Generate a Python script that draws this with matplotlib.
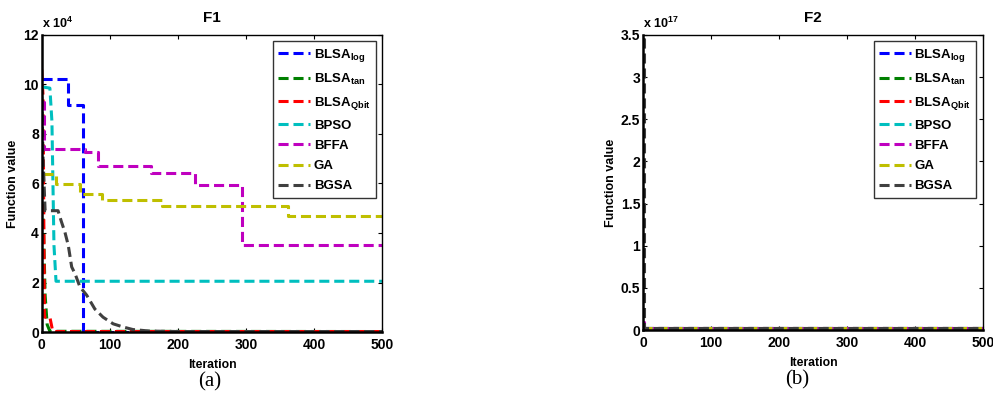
import numpy as np
import matplotlib
matplotlib.use("Agg")
from matplotlib import pyplot as plt

plt.rcParams['font.family'] = ['Liberation Sans', 'DejaVu Sans']
plt.rcParams['font.weight'] = 'bold'
plt.rcParams['mathtext.fontset'] = 'custom'
plt.rcParams['mathtext.bf'] = 'Liberation Sans:bold'
plt.rcParams['mathtext.rm'] = 'Liberation Sans:bold'

names = [r'BLSA$_{\mathbf{log}}$', r'BLSA$_{\mathbf{tan}}$', r'BLSA$_{\mathbf{Qbit}}$',
         'BPSO', 'BFFA', 'GA', 'BGSA']
colors = ['#0000ff', '#008000', '#ff0000', '#00bfbf', '#bf00bf', '#bfbf00', '#404040']

# F1 curves (function value in units of 1e4)
f1_log_x = [0, 39, 61, 500]
f1_log_y = [10.2, 9.18, 0.02, 0.02]
f1_tan_x = [0, 2, 5, 8, 12, 500]
f1_tan_y = [7.6, 5.0, 1.5, 0.3, 0.03, 0.02]
f1_qbit_x = [0, 2, 4, 5, 12, 16, 20, 500]
f1_qbit_y = [10.6, 9.5, 0.6, 0.6, 0.6, 0.05, 0.02, 0.02]
f1_bpso_x = [1, 12, 15, 18, 21, 500]
f1_bpso_y = [9.9, 9.85, 8.5, 3.5, 2.05, 2.05]
f1_bffa_x = [0, 4, 63, 82, 161, 225, 294, 500]
f1_bffa_y = [9.3, 7.4, 7.27, 6.7, 6.42, 5.92, 3.5, 3.5]
f1_ga_x = [2, 21, 56, 88, 177, 362, 500]
f1_ga_y = [6.4, 5.96, 5.58, 5.35, 5.1, 4.69, 4.69]
f1_bgsa_x = [0, 2, 5, 24, 29, 34, 39, 44, 49, 56, 66, 78, 90, 105, 120, 134, 158, 200, 500]
f1_bgsa_y = [9.5, 7.0, 4.9, 4.9, 4.45, 4.04, 3.5, 2.63, 2.35, 1.83, 1.49, 0.93, 0.6, 0.33, 0.2, 0.1, 0.04, 0.02, 0.02]

# F2 curves (function value in units of 1e17)
f2_x = [0, 1, 500]
f2_log_y = [0.02, 0.02, 0.02]
f2_tan_y = [0.02, 0.02, 0.02]
f2_qbit_y = [0.02, 0.02, 0.02]
f2_bpso_y = [0.02, 0.02, 0.02]
f2_bffa_y = [0.1, 0.02, 0.02]
f2_ga_y = [0.03, 0.02, 0.02]
f2_bgsa_y = [3.45, 0.02, 0.02]

DASH = (3.3, 1.6)
LW = 2.2

fig = plt.figure(figsize=(9.93, 4.01), dpi=100)
ax1 = fig.add_axes([0.042, 0.172, 0.343, 0.741])
ax2 = fig.add_axes([0.6475, 0.177, 0.3425, 0.736])

def style(ax, yticks, ymax, expo, title):
    ax.set_xlim(0, 500)
    ax.set_ylim(0, ymax)
    ax.set_xticks([0, 100, 200, 300, 400, 500])
    ax.set_yticks(yticks)
    ax.set_yticklabels([('%g' % t) for t in yticks])
    ax.tick_params(direction='in', length=3, width=0.8, top=True, right=True,
                   labelsize=10, pad=2)
    ax.tick_params(axis='x', pad=4)
    for lab in ax.get_xticklabels() + ax.get_yticklabels():
        lab.set_fontweight('bold')
    for s in ax.spines.values():
        s.set_linewidth(1.0)
    ax.spines['left'].set_linewidth(1.8)
    ax.spines['bottom'].set_linewidth(1.8)
    ax.set_title(title, fontsize=11, fontweight='bold', pad=9)
    ax.set_xlabel('Iteration', fontsize=8.8, fontweight='bold', labelpad=5)
    ax.set_ylabel('Function value', fontsize=9, fontweight='bold', labelpad=3)
    ax.text(0, 1.012, r'x 10$^{\mathbf{%d}}$' % expo, transform=ax.transAxes,
            fontsize=9, fontweight='bold', ha='left', va='bottom')
    leg = ax.legend(loc='upper right', fontsize=9.5, frameon=True, fancybox=False,
                    edgecolor='black', handlelength=2.4, handletextpad=0.3,
                    labelspacing=0.6, borderaxespad=0.5, borderpad=0.4)
    leg.get_frame().set_linewidth(1.0)
    for t in leg.get_texts():
        t.set_fontweight('bold')

ax1.plot(f1_log_x, f1_log_y, drawstyle='steps-post', color=colors[0], lw=LW, dashes=DASH, label=names[0])
ax1.plot(f1_tan_x, f1_tan_y, color=colors[1], lw=LW, dashes=DASH, label=names[1])
ax1.plot(f1_qbit_x, f1_qbit_y, color=colors[2], lw=LW, dashes=DASH, label=names[2])
ax1.plot(f1_bpso_x, f1_bpso_y, color=colors[3], lw=LW, dashes=DASH, label=names[3])
ax1.plot(f1_bffa_x, f1_bffa_y, drawstyle='steps-post', color=colors[4], lw=LW, dashes=DASH, label=names[4])
ax1.plot(f1_ga_x, f1_ga_y, drawstyle='steps-post', color=colors[5], lw=LW, dashes=DASH, label=names[5])
ax1.plot(f1_bgsa_x, f1_bgsa_y, color=colors[6], lw=LW, dashes=DASH, label=names[6])
style(ax1, [0, 2, 4, 6, 8, 10, 12], 12, 4, 'F1')

f2_series = [f2_log_y, f2_tan_y, f2_qbit_y, f2_bpso_y, f2_bffa_y, f2_ga_y, f2_bgsa_y]
for i in range(len(f2_series)):
    ax2.plot(f2_x, f2_series[i], drawstyle='steps-post', color=colors[i], lw=LW,
             dashes=DASH, label=names[i])
style(ax2, [0, 0.5, 1, 1.5, 2, 2.5, 3, 3.5], 3.5, 17, 'F2')

fig.text(0.2115, 0.047, '(a)', ha='center', va='center', fontsize=15,
         fontweight='normal', family='Liberation Serif')
fig.text(0.8026, 0.052, '(b)', ha='center', va='center', fontsize=15,
         fontweight='normal', family='Liberation Serif')

fig.savefig('out.png', dpi=100)
